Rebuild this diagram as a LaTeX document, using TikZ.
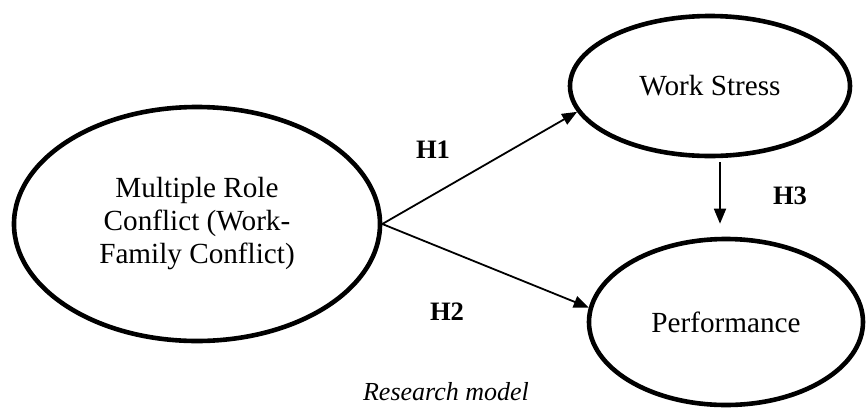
\documentclass[tikz,border=0pt]{standalone}
\usepackage{fontspec}
\setmainfont{Liberation Serif}
\usetikzlibrary{shapes.geometric,arrows.meta}
\begin{document}
\begin{tikzpicture}[x=0.5pt,y=-0.5pt,
  construct/.style={ellipse,draw=black,line width=2.3pt,inner sep=0pt,
     font=\fontsize{14.6pt}{16.5pt}\selectfont,align=center},
  hyp/.style={font=\fontsize{13.3pt}{15pt}\selectfont\bfseries},
  arr/.style={-{Triangle[length=7.5pt,width=6pt]},line width=0.9pt,draw=black}]
\useasboundingbox (0,0) rectangle (868,408);
\node[construct,minimum width=183pt,minimum height=117pt] (mrc) at (197,224)
  {Multiple Role\\Conflict (Work-\\Family Conflict)};
\node[construct,minimum width=140pt,minimum height=70pt] (ws) at (710,86) {Work Stress};
\node[construct,minimum width=137pt,minimum height=83pt] (perf) at (726,322) {Performance};
\draw[arr] (mrc.east) -- (ws.191);
\draw[arr] (mrc.east) -- (perf.174);
\draw[arr] ([xshift=5pt,yshift=-2pt]ws.south) -- ([xshift=-3pt,yshift=6.5pt]perf.north);
\node[hyp] (h1) at (433,150) {H1};
\node[hyp] (h2) at (447,312) {H2};
\node[hyp] (h3) at (790,196) {H3};
\node[font=\fontsize{13pt}{15pt}\selectfont\itshape] (cap) at (446,392) {Research model};
\end{tikzpicture}
\end{document}
